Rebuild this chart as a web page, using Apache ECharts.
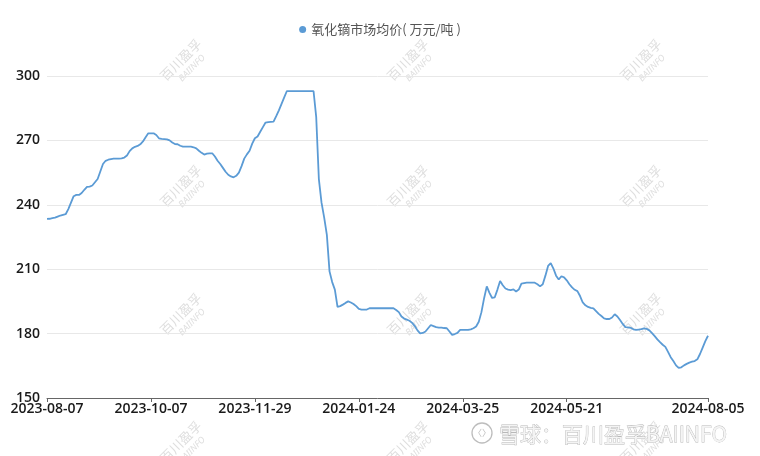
<!DOCTYPE html>
<html>
<head>
<meta charset="utf-8">
<script src="https://cdn.jsdelivr.net/npm/echarts@6/dist/echarts.min.js"></script>
<style>html,body{margin:0;padding:0;background:#fff;}#c{width:760px;height:456px;}</style>
</head>
<body>
<div id="c"></div>
<script>
// ---- data ----
var seriesName = '氧化镝市场均价( 万元/吨 )';
var startDate = '2023-08-07';
var endDate = '2024-08-05';
// non-working weekdays (Chinese public holidays)
var holidays = ['2023-10-02','2023-10-03','2023-10-04','2023-10-05','2023-10-06','2023-09-29',
  '2024-01-01','2024-02-12','2024-02-13','2024-02-14','2024-02-15','2024-02-16',
  '2024-04-04','2024-04-05','2024-05-01','2024-05-02','2024-05-03','2024-06-10'];
// weekend days that were working days in the data
var extraWorkdays = ['2023-10-07','2023-10-08','2024-02-04','2024-04-07','2024-04-28','2024-05-11'];
var labelDates = ['2023-08-07','2023-10-07','2023-11-29','2024-01-24','2024-03-25','2024-05-21','2024-08-05'];
var yTicks = [150, 180, 210, 240, 270, 300];
var prices = [
  233.4, 233.5, 233.8, 234, 234.5, 235, 235.3, 235.6, 238, 241,
  244, 244.6, 244.6, 245.5, 247, 248.3, 248.5, 249, 250.5, 252,
  255.5, 259, 260.5, 261, 261.3, 261.5, 261.5, 261.5, 261.6, 262,
  263, 265, 266.3, 267, 267.4, 268.2, 269.5, 271.5, 273.3, 273.3,
  273.3, 272.5, 271, 270.7, 270.6, 270.5, 270, 269, 268.3, 268.2,
  267.5, 267.1, 267.1, 267.1, 267.1, 266.8, 266.3, 265.2, 264.2, 263.4,
  263.8, 264, 264, 262.5, 260.5, 259, 257.2, 255.4, 254, 253.2,
  252.8, 253.5, 255, 258, 261.5, 263.5, 265.2, 268.5, 271, 271.8,
  274, 276.2, 278.3, 278.5, 278.6, 278.7, 281.3, 284, 287, 290,
  293, 293, 293, 293, 293, 293, 293, 293, 293, 293,
  293, 281, 252, 241, 234, 226, 209, 204, 200.5, 192.5,
  192.8, 193.5, 194.3, 195, 194.5, 193.8, 192.8, 191.5, 191.2, 191.2,
  191.2, 191.8, 191.8, 191.8, 191.8, 191.8, 191.8, 191.8, 191.8, 191.8,
  191.8, 191, 190, 188, 187, 186.5, 186, 185, 183.5, 181.5,
  180.1, 180.3, 181, 182.5, 184, 183.5, 183, 182.8, 182.8, 182.6,
  182.5, 181, 179.4, 179.8, 180.3, 181.7, 181.7, 181.7, 181.7, 182,
  182.5, 183.3, 185.5, 190, 196.5, 202, 199, 196.6, 196.9, 200.5,
  204.5, 202.5, 201, 200.5, 200.3, 200.6, 199.6, 200.5, 203.3, 203.5,
  203.7, 203.7, 203.7, 203.7, 203, 202, 203, 207, 211.5, 212.8,
  210.3, 207, 205.2, 206.7, 206.2, 204.8, 203, 201.5, 200.4, 199.8,
  197.5, 194.5, 193.2, 192.4, 192, 191.8, 190.5, 189.2, 188.2, 187.1,
  186.8, 186.8, 187.5, 189, 188, 186.3, 184.5, 183, 182.9, 182.7,
  182, 181.7, 181.9, 182.1, 182.4, 182.2, 181.5, 180.2, 178.8, 177.3,
  176, 174.8, 173.8, 171.5, 169, 167.2, 165.2, 164, 164.3, 165.2,
  165.9, 166.5, 166.9, 167.2, 168, 170.5, 173.5, 176.5, 179
];

// ---- build working-day categories ----
function fmt(d){var m=d.getUTCMonth()+1, dd=d.getUTCDate();return d.getUTCFullYear()+'-'+(m<10?'0':'')+m+'-'+(dd<10?'0':'')+dd;}
var dates = [];
(function(){
  var d = new Date(startDate+'T00:00:00Z'), e = new Date(endDate+'T00:00:00Z');
  while (d <= e) {
    var s = fmt(d), wd = d.getUTCDay();
    var work = (wd !== 0 && wd !== 6 && holidays.indexOf(s) < 0) || extraWorkdays.indexOf(s) >= 0;
    if (work) dates.push(s);
    d = new Date(d.getTime() + 86400000);
  }
})();
function showLabel(i, v){ return labelDates.indexOf(dates[i]) >= 0; }

// ---- watermarks ----
var wm = [];
var wmX = [185, 412, 645], wmY = [64, 190, 318, 446];
wmX.forEach(function(x){ wmY.forEach(function(y){
  wm.push({type:'group', x:x, y:y, rotation:Math.PI/4, silent:true, z:-1, children:[
    {type:'text', style:{text:'百川盈孚', x:0, y:-6, align:'center', verticalAlign:'middle',
      font:'13px "Noto Sans CJK SC"', fill:'#dedede'}},
    {type:'text', style:{text:'BAIINFO', x:2, y:8, align:'center', verticalAlign:'middle',
      font:'italic 9px "Noto Sans"', fill:'#dedede'}}
  ]});
});});
wm.push({type:'circle', shape:{cx:482, cy:433, r:10}, silent:true,
  style:{fill:'#fff', stroke:'#bdbdbd', lineWidth:1.3}});
wm.push({type:'text', silent:true, style:{text:'〈〉', x:482, y:433, align:'center', verticalAlign:'middle',
  font:'9px "Noto Sans CJK SC"', fill:'#bdbdbd'}});
wm.push({type:'text', silent:true, style:{text:'雪球：百川盈孚BAIINFO', x:499, y:434, align:'left', verticalAlign:'middle',
  font:'21px "Noto Sans CJK SC"', fill:'#f4f4f4', stroke:'#b8b8b8', lineWidth:0.8}});

var chart = echarts.init(document.getElementById('c'), null, {renderer:'canvas'});
chart.setOption({
  animation:false,
  backgroundColor:'#fff',
  graphic: wm,
  legend:{
    top:18, left:'center', icon:'circle', itemWidth:7, itemHeight:7, itemGap:4,
    textStyle:{color:'#555', fontSize:13, fontFamily:'"Noto Sans CJK SC"'},
    data:[seriesName]
  },
  grid:{left:47, right:52, top:76, bottom:58},
  xAxis:{
    type:'category', data:dates, boundaryGap:false,
    axisLine:{lineStyle:{color:'#666', width:1}},
    axisTick:{show:true, interval:showLabel, length:4, lineStyle:{color:'#666'}},
    axisLabel:{interval:showLabel, color:'#1a1a1a', fontSize:14, fontWeight:600, margin:4,
      fontFamily:'"Open Sans"'}
  },
  yAxis:{
    type:'value', min:yTicks[0], max:yTicks[yTicks.length-1], interval:30,
    axisLine:{show:false}, axisTick:{show:false},
    splitLine:{lineStyle:{color:'#e8e8e8'}},
    axisLabel:{color:'#1a1a1a', fontSize:14, fontWeight:600, margin:7, fontFamily:'"Open Sans"'}
  },
  series:[{
    name:seriesName, type:'line', data:prices, showSymbol:false, symbol:'circle',
    itemStyle:{color:'#5B9BD5'},
    lineStyle:{color:'#5B9BD5', width:1.8}
  }]
});
</script>
</body>
</html>
